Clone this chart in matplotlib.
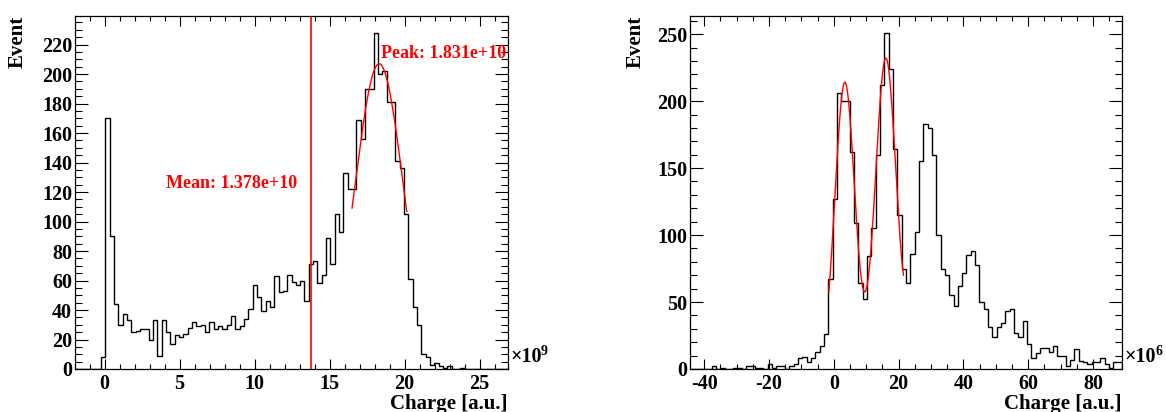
import numpy as np
import matplotlib
matplotlib.use("Agg")
import matplotlib.pyplot as plt
from matplotlib.ticker import MultipleLocator

# ---------------- data ----------------
# Integrated charge spectrum (units of 1e9), 100 bins
charge_lo, charge_hi = -1.97, 26.9
charge_counts = [
    0, 0, 0, 0, 0, 0, 8, 170, 90, 44,
    30, 37, 33, 25, 26, 27, 27, 20, 33, 9,
    33, 25, 17, 23, 22, 24, 28, 32, 29, 30,
    25, 32, 27, 29, 27, 30, 36, 27, 29, 34,
    41, 57, 49, 39, 46, 42, 63, 52, 53, 64,
    59, 57, 60, 46, 71, 73, 58, 64, 89, 71,
    105, 93, 133, 122, 122, 169, 156, 190, 190, 228,
    200, 202, 181, 181, 141, 136, 105, 61, 42, 30,
    10, 8, 3, 4, 2, 1, 2, 0, 0, 1,
    0, 0, 0, 0, 0, 0, 0, 0, 0, 0,
]
mean_charge = 1.378e10
peak_charge = 1.831e10
peak_amp, peak_sigma = 207.0, 1.6
peak_fit_range = (16.5, 20.15)

# Low-light charge spectrum (units of 1e6), 100 bins
spe_lo, spe_hi = -44.4, 88.95
spe_counts = [
    0, 0, 0, 0, 0, 2, 0, 1, 0, 0,
    1, 1, 0, 2, 2, 1, 1, 0, 4, 1,
    2, 2, 0, 2, 4, 8, 9, 5, 8, 13,
    17, 26, 67, 127, 206, 200, 200, 162, 109, 64,
    52, 84, 105, 160, 212, 251, 224, 164, 115, 75,
    64, 86, 102, 155, 183, 180, 160, 100, 75, 70,
    55, 47, 62, 72, 85, 88, 78, 50, 45, 31,
    24, 31, 34, 43, 45, 27, 24, 36, 19, 8,
    12, 16, 16, 13, 17, 10, 10, 2, 7, 15,
    6, 5, 4, 5, 5, 8, 4, 1, 5, 5,
]
# multi-Gaussian fit: (amplitude, mean, sigma)
spe_fit_amps = [214.0, 232.0, 180.0]
spe_fit_means = [3.4, 16.05, 28.8]
spe_fit_sigmas = [3.05, 3.2, 3.3]
spe_fit_range = (-1.55, 21.5)

# ---------------- style ----------------
plt.rcParams["font.family"] = ["Liberation Serif", "DejaVu Serif"]
plt.rcParams["font.weight"] = "bold"
plt.rcParams["axes.unicode_minus"] = False

W, H = 1166, 412
fig = plt.figure(figsize=(W / 100, H / 100), dpi=100)
fig.patch.set_facecolor("white")

TICK_FS = 14.5
TITLE_FS = 15
NOTE_FS = 13


def add_axes_px(left, top, right, bottom):
    return fig.add_axes([left / W, 1 - bottom / H, (right - left) / W, (bottom - top) / H])


def style_axes(ax, xmaj, xmin, ymaj, ymin):
    ax.xaxis.set_major_locator(MultipleLocator(xmaj))
    ax.xaxis.set_minor_locator(MultipleLocator(xmin))
    ax.yaxis.set_major_locator(MultipleLocator(ymaj))
    ax.yaxis.set_minor_locator(MultipleLocator(ymin))
    ax.tick_params(which="both", direction="in", top=True, right=True,
                   width=0.8, color="black", labelsize=TICK_FS)
    ax.tick_params(axis="x", which="major", length=7.2, pad=3.5)
    ax.tick_params(axis="x", which="minor", length=3.6)
    ax.tick_params(axis="y", which="major", length=9.4, pad=2)
    ax.tick_params(axis="y", which="minor", length=4.8)
    for s in ax.spines.values():
        s.set_linewidth(0.9)
        s.set_color("black")


def gauss(x, a, m, s):
    return a * np.exp(-0.5 * ((x - m) / s) ** 2)


# ---------------- left: charge spectrum ----------------
ax1 = add_axes_px(75, 16, 508, 369)
edges1 = np.linspace(charge_lo, charge_hi, len(charge_counts) + 1)
ax1.stairs(charge_counts, edges1, color="black", lw=1.0, baseline=0)
ax1.set_xlim(charge_lo, charge_hi)
ax1.set_ylim(0, max(charge_counts) * 1.05)
style_axes(ax1, 5, 1, 20, 5)

mean_x = mean_charge / 1e9
peak_x = peak_charge / 1e9
ax1.axvline(mean_x, color="red", lw=1.2)
xf = np.linspace(*peak_fit_range, 200)
ax1.plot(xf, gauss(xf, peak_amp, peak_x, peak_sigma), color="red", lw=1.0)
ax1.text(mean_x * 0.93, 122.8, f"Mean: {mean_charge:.3e}", color="red",
         fontsize=NOTE_FS, ha="right", va="baseline")
ax1.text(peak_x + 0.1, 211, f"Peak: {peak_charge:.3e}", color="red",
         fontsize=NOTE_FS, ha="left", va="baseline")

# ---------------- right: low-light spectrum ----------------
ax2 = add_axes_px(690, 16, 1122, 369)
edges2 = np.linspace(spe_lo, spe_hi, len(spe_counts) + 1)
ax2.stairs(spe_counts, edges2, color="black", lw=1.0, baseline=0)
ax2.set_xlim(spe_lo, spe_hi)
ax2.set_ylim(0, max(spe_counts) * 1.05)
style_axes(ax2, 20, 5, 50, 10)

xs = np.linspace(*spe_fit_range, 400)
ys = sum(gauss(xs, a, m, s) for a, m, s in zip(spe_fit_amps, spe_fit_means, spe_fit_sigmas))
ax2.plot(xs, ys, color="red", lw=1.0)

# ---------------- axis titles and exponents ----------------
for ax, ylab_x, right_px, exp in ((ax1, 18, 508, "9"), (ax2, 636, 1122, "6")):
    fig.text(ylab_x / W, 1 - 16 / H, "Event", rotation=90, ha="center", va="top",
             fontsize=TITLE_FS)
    fig.text(right_px / W, 1 - 409 / H, "Charge [a.u.]", ha="right", va="baseline",
             fontsize=TITLE_FS)
    fig.text((right_px + 2) / W, 1 - 362 / H, "\u00d710", ha="left", va="baseline",
             fontsize=TICK_FS)
    fig.text((right_px + 33) / W, 1 - 355 / H, exp, ha="left", va="baseline",
             fontsize=10)

fig.savefig("out.png", dpi=100)
